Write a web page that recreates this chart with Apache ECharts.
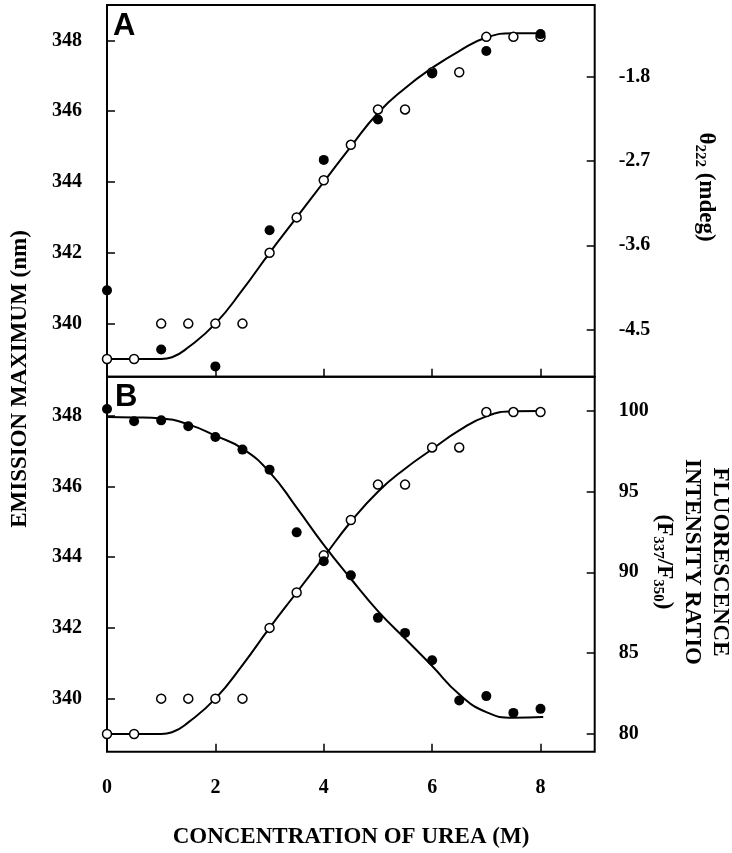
<!DOCTYPE html>
<html><head><meta charset="utf-8">
<script src="https://cdn.jsdelivr.net/npm/echarts@6/dist/echarts.min.js"></script>
<style>html,body{margin:0;padding:0;background:#fff}#c{width:732px;height:853px}</style>
</head><body><div id="c"></div>
<script>
// ---- data ----
const ureaConc = [0,0.5,1,1.5,2,2.5,3,3.5,4,4.5,5,5.5,6,6.5,7,7.5,8];
const emissionMax = [339.0,339.0,340.0,340.0,340.0,340.0,342.0,343.0,344.05,345.05,346.05,346.05,347.1,347.1,348.1,348.1,348.1];
const thetaConc = [0,1,2,3,4,5,6,7,8];
const theta222 = [-4.08,-4.71,-4.89,-3.44,-2.69,-2.26,-1.77,-1.53,-1.35];
const intensityRatio = [100.1,99.34,99.4,99.03,98.37,97.59,96.35,92.47,90.68,89.81,87.18,86.25,84.56,82.07,82.34,81.3,81.55];
const fitConc = [0,0.5,1,1.2,1.5,2,2.5,3,3.5,4,4.5,5,5.5,6,6.5,7,7.5,8];
const fitEmissionA = [339.0,339.0,339.0,339.05,339.33,340.0,340.95,342.0,343.0,344.0,345.0,345.95,346.65,347.22,347.7,348.08,348.2,348.2];
const fitEmissionB = [339.0,339.0,339.0,339.05,339.33,340.0,340.95,342.0,343.0,344.0,345.0,345.85,346.5,347.05,347.58,347.98,348.12,348.13];
const fitRatioConc = [0,0.5,1,1.5,2,2.5,3,3.5,4,4.5,5,5.5,6,6.5,7,7.5,8.05];
const fitRatio = [99.6,99.58,99.52,99.15,98.45,97.65,96.2,94.0,91.7,89.6,87.6,85.9,84.2,82.45,81.35,81.0,81.05];
const xTickValues = [0,2,4,6,8];
const xInnerTicks = [2,4,6,8];
const nmTicks = [340,342,344,346,348];
const thetaTicks = [-4.5,-3.6,-2.7,-1.8];
const ratioTicks = [80,85,90,95,100];

const zip = (xs, ys) => xs.map((x, i) => [x, ys[i]]);
const SERIF = '"Liberation Serif", "Times New Roman", serif';
const tickStyle = {show: true, inside: true, length: 8, lineStyle: {color: '#000', width: 1.5}};
const labelBase = {color: '#000', fontFamily: SERIF, fontWeight: 'bold', fontSize: 20};

function xAxis(gridIndex, showLabels) {
  return {
    type: 'value', gridIndex, min: 0, max: 9,
    axisLine: {show: false, onZero: false},
    splitLine: {show: false},
    axisTick: Object.assign({}, tickStyle, {customValues: xInnerTicks}),
    axisLabel: Object.assign({}, labelBase, {show: showLabels, margin: 26, customValues: xTickValues})
  };
}
function yAxis(gridIndex, position, min, max, ticks, margin, fmt) {
  return {
    type: 'value', gridIndex, position, min, max,
    axisLine: {show: false, onZero: false},
    splitLine: {show: false},
    axisTick: Object.assign({}, tickStyle, {customValues: ticks}),
    axisLabel: Object.assign({}, labelBase, {margin, customValues: ticks, formatter: fmt})
  };
}

const openCircle = {symbol: 'circle', symbolSize: 9, itemStyle: {color: '#fff', borderColor: '#000', borderWidth: 1.5, opacity: 1}};
const filledCircle = {symbol: 'circle', symbolSize: 10, itemStyle: {color: '#000', borderColor: '#000', borderWidth: 0, opacity: 1}};
const fitLine = {type: 'line', showSymbol: false, smooth: 0.5, lineStyle: {color: '#000', width: 2}, z: 1, silent: true};

const chart = echarts.init(document.getElementById('c'), null, {renderer: 'canvas'});
chart.setOption({
  animation: false,
  backgroundColor: '#fff',
  grid: [
    {left: 107, top: 5, width: 487.7, height: 371.7, show: true, borderColor: '#000', borderWidth: 2, backgroundColor: 'transparent'},
    {left: 107, top: 376.7, width: 487.7, height: 375, show: true, borderColor: '#000', borderWidth: 2, backgroundColor: 'transparent'}
  ],
  xAxis: [xAxis(0, false), xAxis(1, true)],
  yAxis: [
    yAxis(0, 'left', 338.5, 349, nmTicks, 25),
    yAxis(0, 'right', -5.0, -1.04, thetaTicks, 24, v => v.toFixed(1)),
    yAxis(1, 'left', 338.5, 349.1, nmTicks, 25),
    yAxis(1, 'right', 78.9, 102.1, ratioTicks, 24)
  ],
  series: [
    Object.assign({}, fitLine, {xAxisIndex: 0, yAxisIndex: 0, data: zip(fitConc, fitEmissionA)}),
    Object.assign({type: 'scatter', xAxisIndex: 0, yAxisIndex: 0, z: 3, clip: false, data: zip(ureaConc, emissionMax)}, openCircle),
    Object.assign({type: 'scatter', xAxisIndex: 0, yAxisIndex: 1, z: 4, clip: false, data: zip(thetaConc, theta222)}, filledCircle),
    Object.assign({}, fitLine, {xAxisIndex: 1, yAxisIndex: 2, data: zip(fitConc, fitEmissionB)}),
    Object.assign({}, fitLine, {xAxisIndex: 1, yAxisIndex: 3, data: zip(fitRatioConc, fitRatio)}),
    Object.assign({type: 'scatter', xAxisIndex: 1, yAxisIndex: 2, z: 3, clip: false, data: zip(ureaConc, emissionMax)}, openCircle),
    Object.assign({type: 'scatter', xAxisIndex: 1, yAxisIndex: 3, z: 4, clip: false, data: zip(ureaConc, intensityRatio)}, filledCircle)
  ],
  graphic: [
    {type: 'text', x: 113, y: 26, z: 10, style: {text: 'A', font: 'bold 31px "Liberation Sans", Arial, sans-serif', fill: '#000', align: 'left', verticalAlign: 'middle'}},
    {type: 'text', x: 115, y: 397, z: 10, style: {text: 'B', font: 'bold 31px "Liberation Sans", Arial, sans-serif', fill: '#000', align: 'left', verticalAlign: 'middle'}},
    {type: 'text', x: 20, y: 379, rotation: Math.PI / 2, z: 10, style: {text: 'EMISSION MAXIMUM (nm)', font: 'bold 23px ' + SERIF, fill: '#000', align: 'center', verticalAlign: 'middle'}},
    {type: 'text', x: 351, y: 837, z: 10, style: {text: 'CONCENTRATION OF UREA (M)', font: 'bold 23px ' + SERIF, fill: '#000', align: 'center', verticalAlign: 'middle'}},
    {type: 'text', x: 706, y: 187, rotation: -Math.PI / 2, z: 10, style: {
      text: '{t|θ}{s|222}{t| (mdeg)}', align: 'center', verticalAlign: 'middle', fill: '#000',
      rich: {
        t: {fontFamily: SERIF, fontWeight: 'bold', fontSize: 23, lineHeight: 28, fill: '#000'},
        s: {fontFamily: SERIF, fontWeight: 'bold', fontSize: 15, lineHeight: 10, verticalAlign: 'bottom', fill: '#000'}
      }}},
    {type: 'text', x: 692, y: 562, rotation: -Math.PI / 2, z: 10, style: {
      text: '{t|FLUORESCENCE}\n{t|INTENSITY RATIO}\n{t|(F}{s|337}{t|/F}{s|350}{t|)}', align: 'center', verticalAlign: 'middle', fill: '#000',
      rich: {
        t: {fontFamily: SERIF, fontWeight: 'bold', fontSize: 23, lineHeight: 28, fill: '#000', align: 'center'},
        s: {fontFamily: SERIF, fontWeight: 'bold', fontSize: 15, lineHeight: 10, verticalAlign: 'bottom', fill: '#000'}
      }}}
  ]
});
</script></body></html>
